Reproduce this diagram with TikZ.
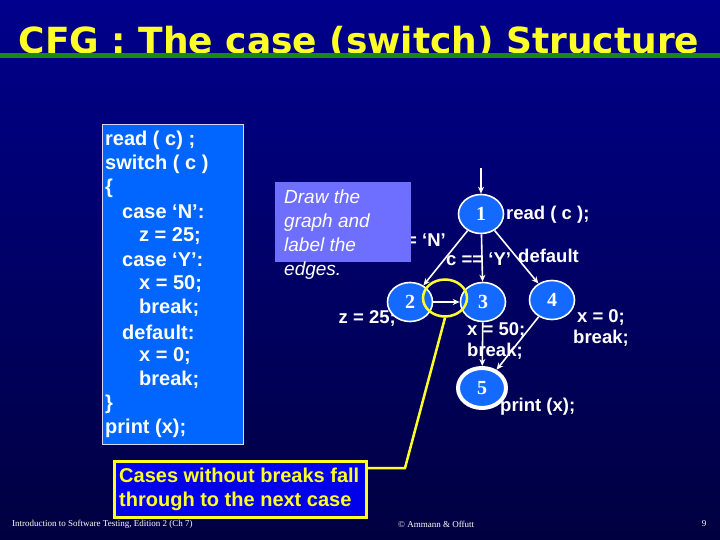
\documentclass[tikz,border=0pt]{standalone}
\usepackage{fontspec}
\setmainfont{Liberation Sans}
\newfontfamily\titlefont{DejaVu Sans}
\newfontfamily\seriffont{Liberation Serif}
\usetikzlibrary{shapes.geometric,arrows.meta}
\definecolor{bgtop}{RGB}{0,0,140}
\definecolor{bgbot}{RGB}{0,0,64}
\definecolor{nodeblue}{RGB}{20,105,255}
\definecolor{codeblue}{RGB}{0,102,255}
\definecolor{lav}{RGB}{110,110,255}
\definecolor{callblue}{RGB}{0,0,235}
\definecolor{ttlyellow}{RGB}{255,255,40}
\definecolor{linegreen}{RGB}{20,140,20}
\tikzset{
  cfgnode/.style={ellipse,draw=white,line width=1.6pt,fill=nodeblue,minimum width=45pt,minimum height=39pt,inner sep=0pt,text=white,font=\seriffont\bfseries\fontsize{20}{20}\selectfont},
  edge/.style={draw=white,line width=1.6pt,-{Stealth[length=7pt,width=6pt]}},
  lbl/.style={text=white,font=\bfseries\fontsize{18.5}{18.5}\selectfont,inner sep=0pt},
  codeline/.style={text=white,font=\bfseries\fontsize{20}{20}\selectfont,anchor=west,inner sep=0pt},
  foot/.style={text=white,font=\seriffont\fontsize{9}{9}\selectfont,inner sep=0pt}
}
\begin{document}
\begin{tikzpicture}[x=1pt,y=-1pt]
\shade[top color=bgtop,bottom color=bgbot] (0,0) rectangle (720,540);
\useasboundingbox (0,0) rectangle (720,540);
% title
\node[text=ttlyellow,font=\titlefont\bfseries\fontsize{36}{36}\selectfont,inner sep=0pt,anchor=base] (title) at (359,54) {CFG : The case (switch) Structure};
\draw[linegreen,line width=5pt] (0,56) -- (720,56);
% code box
\node[draw=white!85!blue,line width=1pt,fill=codeblue,minimum width=141pt,minimum height=320pt,anchor=north west,inner sep=0pt] (code) at (102,124) {};
\foreach \t/\x/\y in {{read ( c) ;}/105/140,{switch ( c )}/105/164,{\{}/105/188,{case `N':}/122/212,{z = 25;}/139/236,{case `Y':}/122/260,{x = 50;}/139/284,{break;}/139/308,{default:}/122/332,{x = 0;}/139/356,{break;}/139/380,{\}}/105/404,{print (x);}/105/428}
  \node[codeline] at (\x,\y) {\t};
% edge labels
\node[lbl,anchor=east] (lN) at (446,240) {c == `N'};
\node[lbl,anchor=west] (lY) at (446,259) {c == `Y'};
\node[lbl,anchor=west] (ldef) at (518,256) {default};
\node[lbl,anchor=west] (lread) at (506,215) {read ( c );};
\node[lbl,anchor=east] (lz) at (396,318) {z = 25;};
\node[lbl,anchor=west,align=left] (l50) at (467,341) {x = 50;\\[3pt]break;};
\node[lbl,align=center] (l0) at (601,328) {x = 0;\\[3pt]break;};
\node[lbl,anchor=west] (lprint) at (500,407) {print (x);};
% nodes
\node[cfgnode] (n1) at (481,214) {1};
\node[cfgnode] (n2) at (410,302) {2};
\node[cfgnode] (n3) at (483,302) {3};
\node[cfgnode] (n4) at (552,300) {4};
\node[cfgnode,line width=4pt,minimum width=48pt,minimum height=40pt] (n5) at (482,388) {5};
\coordinate (start) at (481,168);
% edges
\draw[edge] (start) -- (n1);
\draw[edge] (n1) -- (n2);
\draw[edge] (n1) -- (n3);
\draw[edge] (n1) -- (n4);
\draw[edge] (n2) -- (n3);
\draw[edge] (n3) -- (n5);
\draw[edge] (n4) -- (n5);
% draw box
\node[fill=lav,minimum width=136pt,minimum height=80pt,anchor=north west,inner sep=0pt] (drawbox) at (275,182) {};
\node[text=white,font=\itshape\fontsize{19}{24}\selectfont,align=left,anchor=north west,inner sep=0pt] (drawtxt) at (284,190) {Draw the\\graph and\\label the\\edges.};
% yellow callout
\node[ellipse,draw=ttlyellow,line width=2.5pt,minimum width=44pt,minimum height=37pt,inner sep=0pt] (ring) at (445,298) {};
\node[draw=ttlyellow,line width=2.5pt,fill=callblue,minimum width=252pt,minimum height=56pt,anchor=north west,inner sep=0pt] (call) at (113,460) {};
\node[text=ttlyellow,font=\bfseries\fontsize{20}{24}\selectfont,align=left,anchor=north west,inner sep=0pt] (calltxt) at (119,468) {Cases without breaks fall\\through to the next case};
\coordinate (bend) at (405,468);
\draw[ttlyellow,line width=2.5pt] (ring.south) -- (bend) -- (call.east |- bend);
% footer
\node[foot,anchor=west] (f1) at (12,524) {Introduction to Software Testing, Edition 2 (Ch 7)};
\node[foot,anchor=west] (f2) at (398,524) {\textcopyright{} Ammann \& Offutt};
\node[foot] (f3) at (704,524) {9};
\end{tikzpicture}
\end{document}
